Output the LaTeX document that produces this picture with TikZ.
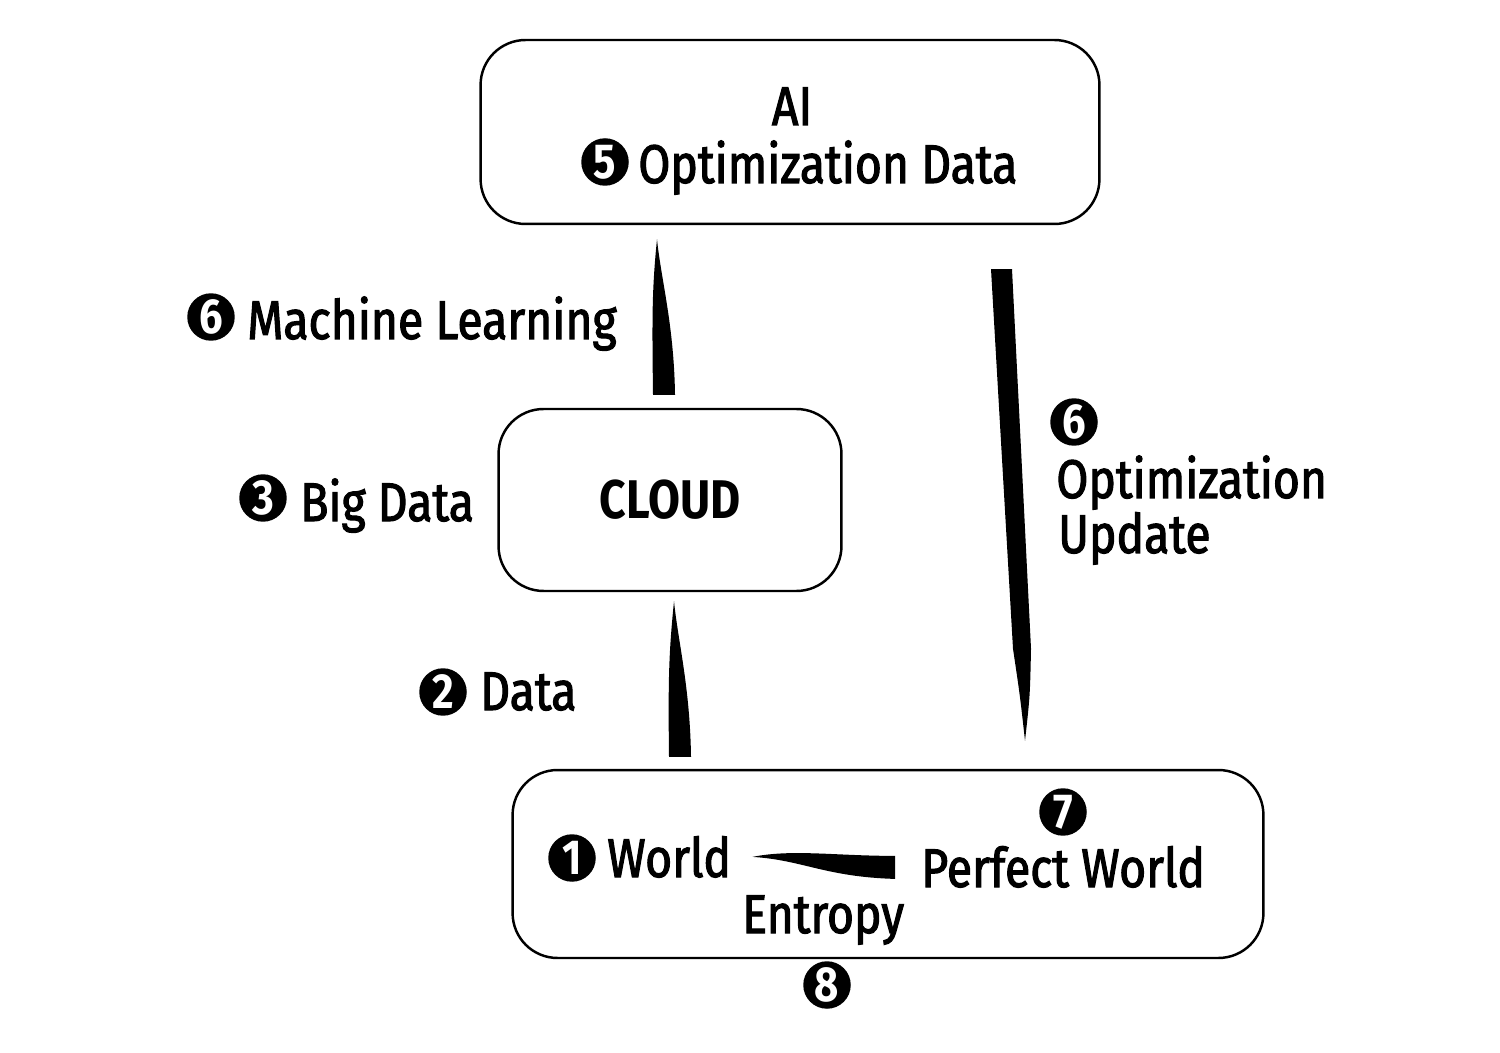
\documentclass[tikz,border=0pt]{standalone}
\usepackage{fontspec}
\setmainfont{Fira Sans}[FakeStretch=0.85, UprightFeatures={FakeBold=2}]
\usetikzlibrary{calc}
\tikzset{
  box/.style={draw, line width=1.4pt, rounded corners=0.9cm, inner sep=0pt},
  num/.style={circle, fill=black, text=white, inner sep=0pt, minimum size=0.95cm,
    font=\fontsize{28}{28}\selectfont\bfseries},
  lbl/.style={inner sep=0pt, font=\fontsize{31}{33}\selectfont},
  wedge/.style={fill=black, draw=none},
}
\begin{document}
\begin{tikzpicture}[x=0.02cm, y=-0.02cm]
\useasboundingbox (0,0) rectangle (1500,1053);
% boxes
\node[box, minimum width=12.38cm, minimum height=3.68cm] (ai) at (790,132) {};
\node[box, minimum width=6.86cm, minimum height=3.64cm,
      font=\fontsize{31}{33}\selectfont\bfseries] (cloud) at (670,500) {CLOUD};
\node[box, minimum width=15.02cm, minimum height=3.76cm] (world) at (888,864) {};
% texts
\node[lbl, anchor=base] (ailbl) at (792,125) {AI};
\node[num] (n5) at (605,162) {5};
\node[lbl, anchor=base west] (optdata) at (638,183) {Optimization Data};
\node[num] (n6a) at (211,317) {6};
\node[lbl, anchor=base west] (ml) at (247,339) {Machine Learning};
\node[num] (n3) at (263,498) {3};
\node[lbl, anchor=base west] (bigdata) at (300,521) {Big Data};
\node[num] (n2) at (443,692) {2};
\node[lbl, anchor=base west] (data) at (480,710) {Data};
\node[num] (n6b) at (1074,422) {6};
\node[lbl, anchor=base west] (opt) at (1056,498) {Optimization};
\node[lbl, anchor=base west] (upd) at (1058,553) {Update};
\node[num] (n1) at (572,858) {1};
\node[lbl, anchor=base west] (worldlbl) at (607,877) {World};
\node[num] (n7) at (1063,812) {7};
\node[lbl, anchor=base west] (pw) at (921,887) {Perfect World};
\node[lbl, anchor=base west] (entropy) at (742,933) {Entropy};
\node[num] (n8) at (827,985) {8};
% connector end points
\coordinate (mlB) at ($(cloud.north)+(-6,-13)$);
\coordinate (mlT) at ($(ai.south)+(-133,14)$);
\coordinate (dB) at ($(world.north)+(-208,-12)$);
\coordinate (dT) at ($(cloud.south)+(4,9)$);
\coordinate (ouT) at ($(ai.south)+(211,44)$);
\coordinate (ouB) at ($(world.north)+(137,-28)$);
\coordinate (enR) at ($(pw.west)+(-26,0)$);
\coordinate (enL) at ($(worldlbl.east)+(21,0)$);
% Machine learning wedge
\fill[wedge] ($(mlB)+(-11,0)$) .. controls ($(mlB)+(-12,-80)$) and ($(mlT)+(-5,50)$) .. (mlT)
  .. controls ($(mlT)+(4,40)$) and ($(mlB)+(10,-70)$) .. ($(mlB)+(11,0)$) -- cycle;
% Data wedge
\fill[wedge] ($(dB)+(-11,0)$) .. controls ($(dB)+(-12,-80)$) and ($(dT)+(-5,50)$) .. (dT)
  .. controls ($(dT)+(4,40)$) and ($(dB)+(10,-70)$) .. ($(dB)+(11,0)$) -- cycle;
% Optimization update wedge
\fill[wedge] ($(ouT)+(-10,0)$) -- ($(ouT)+(11,0)$) -- ($(ouB)+(6,-92)$)
  .. controls ($(ouB)+(5,-45)$) .. (ouB)
  .. controls ($(ouB)+(-5,-45)$) .. ($(ouB)+(-12,-92)$) -- cycle;
% Entropy wedge
\fill[wedge] (enL) .. controls ($(enL)+(40,-8)$) and ($(enR)+(-60,-11)$) .. ($(enR)+(0,-11)$)
  -- ($(enR)+(0,12)$) .. controls ($(enR)+(-70,10)$) and ($(enL)+(50,3)$) .. (enL) -- cycle;
\end{tikzpicture}
\end{document}
